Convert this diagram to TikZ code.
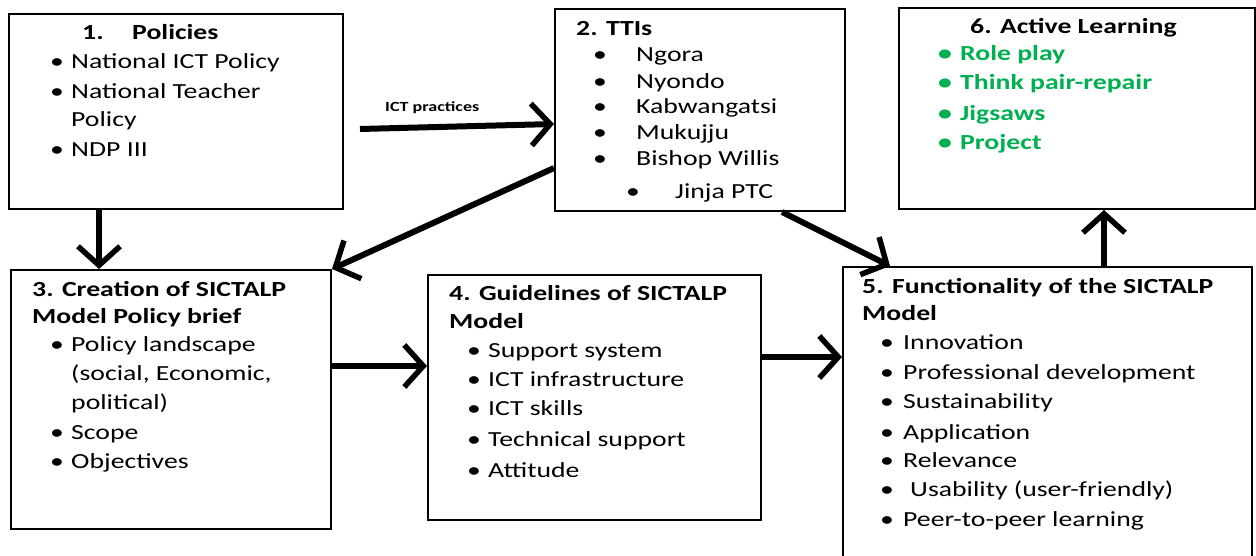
\documentclass[tikz,border=0pt]{standalone}
\usepackage{fontspec}
\setmainfont{Carlito}[FakeStretch=1.29]
\usetikzlibrary{arrows.meta}
\definecolor{actgreen}{RGB}{0,176,80}
\newcommand\bodysize{\fontsize{21.5}{26}\selectfont}
\tikzset{
  box/.style={draw=black, line width=2pt, anchor=north west, inner sep=0pt},
  txt/.style={anchor=base west, inner sep=0pt, font=\bodysize},
  ttl/.style={txt, font=\bodysize\bfseries},
  bul/.style={anchor=base, inner sep=0pt, font=\bodysize},
  grn/.style={font=\bodysize\bfseries, text=actgreen},
  arr/.style={line width=6pt, -{Straight Barb[length=19pt,width=42pt,line width=5.5pt]}},
}
% bullet item: [options]{name}{bullet x}{baseline y}{text x}{text}
\newcommand\bitem[6][]{%
  \node[bul,#1] (#2-b) at (#3,#4) {\textbullet};
  \node[txt,#1] (#2) at (#5,#4) {#6};}
\begin{document}
\begin{tikzpicture}[x=1pt,y=-1pt]
\useasboundingbox (0,0) rectangle (1256,556);
\clip (0,0) rectangle (1256,556);

% boxes
\node[box, minimum width=334pt, minimum height=195pt] (b1) at (8,13) {};
\node[box, minimum width=290pt, minimum height=202pt] (b2) at (554,8) {};
\node[box, minimum width=356pt, minimum height=201pt] (b6) at (898,7) {};
\node[box, minimum width=320pt, minimum height=259pt] (b3) at (10,269) {};
\node[box, minimum width=333pt, minimum height=245pt] (b4) at (427,274) {};
\node[box, minimum width=409pt, minimum height=300pt] (b5) at (842,266) {};

% 1. Policies
\node[ttl] (t1n) at (82,40) {1.};
\node[ttl] (t1) at (132,40) {Policies};
\bitem{p1}{57}{69}{71}{National ICT Policy}
\bitem{p2}{57}{99}{71}{National Teacher}
\node[txt] (p2b) at (71,127) {Policy};
\bitem{p3}{57}{157}{71}{NDP III}

% 2. TTIs
\node[ttl] (t2) at (576,36) {2. TTIs};
\bitem{q1}{600}{62}{636}{Ngora}
\bitem{q2}{600}{89}{636}{Nyondo}
\bitem{q3}{600}{114}{636}{Kabwangatsi}
\bitem{q4}{600}{140}{636}{Mukujju}
\bitem{q5}{600}{166}{636}{Bishop Willis}
\bitem{q6}{633}{199}{675}{Jinja PTC}

% 6. Active Learning
\node[ttl] (t6) at (970,34) {6. Active Learning};
\bitem[grn]{a1}{945}{61}{960}{Role play}
\bitem[grn]{a2}{945}{90}{960}{Think pair-repair}
\bitem[grn]{a3}{945}{121}{960}{Jigsaws}
\bitem[grn]{a4}{945}{150}{960}{Project}

% 3. Creation of SICTALP Model Policy brief
\node[ttl] (t3a) at (32,296) {3. Creation of SICTALP};
\node[ttl] (t3b) at (32,323) {Model Policy brief};
\bitem{c1}{57}{351}{71}{Policy landscape}
\node[txt] (c1b) at (71,380) {(social, Economic,};
\node[txt] (c1c) at (71,409) {political)};
\bitem{c2}{57}{439}{71}{Scope}
\bitem{c3}{57}{468}{71}{Objectives}

% 4. Guidelines of SICTALP Model
\node[ttl] (t4a) at (449,301) {4. Guidelines of SICTALP};
\node[ttl] (t4b) at (449,328) {Model};
\bitem{g1}{474}{357}{488}{Support system}
\bitem{g2}{474}{386}{488}{ICT infrastructure}
\bitem{g3}{474}{415}{488}{ICT skills}
\bitem{g4}{474}{446}{488}{Technical support}
\bitem{g5}{474}{477}{488}{Attitude}

% 5. Functionality of the SICTALP Model
\node[ttl] (t5a) at (862,293) {5. Functionality of the SICTALP};
\node[ttl] (t5b) at (862,320) {Model};
\bitem{f1}{887}{349}{903}{Innovation}
\bitem{f2}{887}{379}{903}{Professional development}
\bitem{f3}{887}{408}{903}{Sustainability}
\bitem{f4}{887}{439}{903}{Application}
\bitem{f5}{887}{467}{903}{Relevance}
\bitem{f6}{887}{496}{910}{Usability (user-friendly)}
\bitem{f7}{887}{526}{903}{Peer-to-peer learning}

% connectors
\coordinate (ictS) at (360,129);
\coordinate (ictE) at (0,124);
\coordinate (xa) at (99,0);
\coordinate (ya) at (0,168);
\coordinate (xb) at (782,0);
\coordinate (xc) at (890,0);
\coordinate (yd) at (0,366);
\coordinate (ye) at (0,357);
\coordinate (xf) at (1104,0);

\node[anchor=base west, inner sep=0pt, font=\fontsize{14}{16}\selectfont\bfseries] (ictl) at (385,112) {ICT practices};
\draw[arr] (ictS) -- (b2.west |- ictE);
\draw[arr] (b1.south -| xa) -- (b3.north -| xa);
\draw[arr] (b2.west |- ya) -- (b3.north east);
\draw[arr] (b2.south -| xb) -- (b5.north -| xc);
\draw[arr] (b3.east |- yd) -- (b4.west |- yd);
\draw[arr] (b4.east |- ye) -- (b5.west |- ye);
\draw[arr] (b5.north -| xf) -- (b6.south -| xf);
\end{tikzpicture}
\end{document}
